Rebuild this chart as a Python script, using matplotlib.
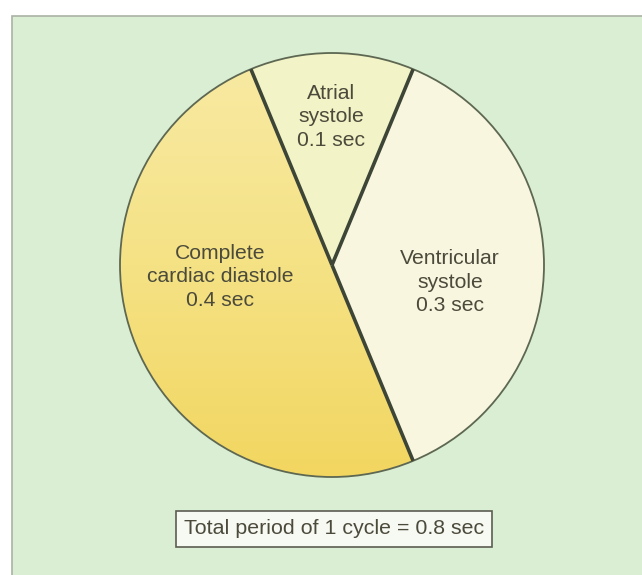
import matplotlib
matplotlib.use('Agg')
import matplotlib.pyplot as plt
import numpy as np
from matplotlib.patches import Rectangle, Circle
from matplotlib.colors import LinearSegmentedColormap

plt.rcParams['font.family'] = ['Liberation Sans', 'DejaVu Sans']

# phases of one cardiac cycle, seconds
phases = ['Ventricular\nsystole', 'Atrial\nsystole', 'Complete\ncardiac diastole']
durations = [0.3, 0.1, 0.4]
total = 0.8

colors = ['#f8f6df', '#f2f3c6', '#f4df7a']
text_color = '#4b4a3b'

W, H = 642, 575
fig = plt.figure(figsize=(W / 100, H / 100), dpi=100)
fig.patch.set_facecolor('white')
ax = fig.add_axes([0, 0, 1, 1])

# green panel with thin grey border
ax.add_patch(Rectangle((12, -5), W, H - 16 + 5, facecolor='#d9eed2',
                       edgecolor='#a9b2a6', linewidth=1.2, zorder=0))

cx, cy, r = 332, H - 265, 212
wedges, _ = ax.pie(durations, startangle=-67.5, counterclock=True,
                   colors=colors, radius=r, center=(cx, cy),
                   wedgeprops=dict(linewidth=0, zorder=1))

# yellow shading across the diastole wedge
grad = np.linspace(0, 1, 256).reshape(-1, 1)
cmap = LinearSegmentedColormap.from_list('diast', ['#f2d660', '#f5e285', '#f8eaa4'])
im = ax.imshow(grad, cmap=cmap, origin='lower', aspect='auto',
               extent=(cx - r, cx + r, cy - r, cy + r), zorder=1.5)
im.set_clip_path(wedges[2])

ax.add_patch(Circle((cx, cy), r, fill=False, edgecolor='#5d6752',
                    linewidth=1.3, zorder=3))

# dividing lines between the phases
for w in wedges:
    t = np.deg2rad(w.theta1)
    ax.plot([cx, cx + r * np.cos(t)], [cy, cy + r * np.sin(t)],
            color='#3d4536', linewidth=2.6, solid_capstyle='butt', zorder=4)

labels = [f'{p}\n{d} sec' for p, d in zip(phases, durations)]
label_pos = [(450, H - 282), (331, H - 117), (220, H - 277)]
for lab, (x, y) in zip(labels, label_pos):
    ax.text(x, y, lab, ha='center', va='center', fontsize=15.2,
            color=text_color, linespacing=1.3, zorder=5)

ax.text(cx + 2, H - 529, f'Total period of 1 cycle = {total} sec',
        ha='center', va='center', fontsize=15.4, color=text_color, zorder=5,
        bbox=dict(boxstyle='square,pad=0.38', facecolor='#f7f9f3',
                  edgecolor='#5b5d52', linewidth=1.2))

ax.set_xlim(0, W)
ax.set_ylim(0, H)
ax.set_aspect('auto')
ax.axis('off')

fig.savefig('out.png', dpi=100, facecolor='white')
